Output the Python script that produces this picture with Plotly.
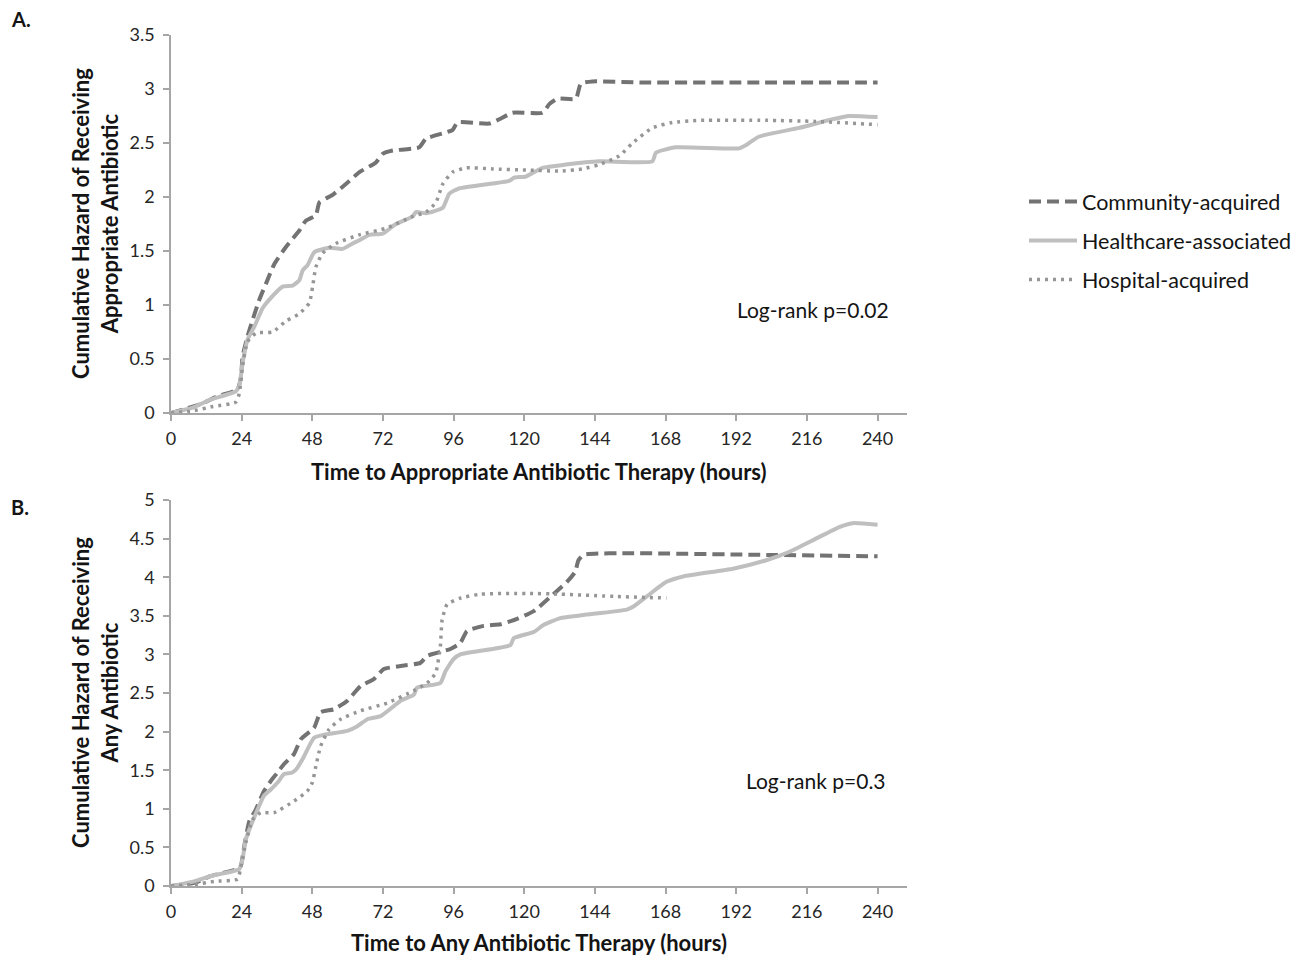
import plotly.graph_objects as go

# ---------------- data (hours, cumulative hazard) ----------------
# Panel A: appropriate antibiotic
a_comm_t = [0, 5, 10.8, 15.3, 22.6, 23.8, 24.3, 26, 27.7, 30, 32.3, 35.1, 39.1, 43.6, 45.8, 49.2, 50.4, 54.9, 59.4, 64, 69.6, 71.9, 75.3, 84.3, 86.6, 95.6, 97.3, 108, 111.5, 116, 126.2, 128.5, 131.3, 137.5, 139.2, 143.2, 160, 200, 240]
a_comm_v = [0, 0.04, 0.09, 0.15, 0.22, 0.34, 0.52, 0.71, 0.86, 1.05, 1.2, 1.38, 1.54, 1.69, 1.78, 1.83, 1.95, 2.02, 2.12, 2.23, 2.32, 2.4, 2.43, 2.46, 2.54, 2.62, 2.69, 2.68, 2.72, 2.78, 2.78, 2.86, 2.91, 2.91, 3.05, 3.07, 3.06, 3.06, 3.06]

a_hca_t = [0, 7.4, 13, 22, 23.2, 24.3, 26, 28.3, 31.1, 33.4, 37.9, 41.3, 43.6, 44.7, 46.4, 48.7, 53.8, 58.3, 61.7, 64, 67.4, 71.9, 76.4, 82.1, 83.2, 86.6, 92.3, 94.5, 97.9, 114.9, 116.6, 120.6, 126.2, 134.1, 145.4, 163.5, 164.7, 171.5, 193, 195.3, 199.8, 213.4, 224.7, 230.3, 240]
a_hca_v = [0, 0.05, 0.12, 0.2, 0.25, 0.46, 0.68, 0.8, 0.97, 1.05, 1.17, 1.18, 1.23, 1.32, 1.37, 1.49, 1.53, 1.52, 1.57, 1.6, 1.65, 1.66, 1.75, 1.82, 1.86, 1.85, 1.9, 2.03, 2.08, 2.15, 2.18, 2.19, 2.27, 2.30, 2.33, 2.33, 2.41, 2.46, 2.45, 2.48, 2.56, 2.64, 2.72, 2.75, 2.74]

a_hosp_t = [0, 7.4, 14.2, 22, 23.2, 24.3, 26, 28.9, 34.5, 39, 43.6, 47, 48.1, 49.2, 51.5, 56, 64, 73, 82.1, 86.6, 90, 92.3, 95.6, 100.2, 109.2, 120.6, 131.9, 139.8, 145.4, 152.2, 156.8, 163.5, 170.3, 179.4, 202, 219, 240]
a_hosp_v = [0, 0.02, 0.06, 0.1, 0.18, 0.43, 0.66, 0.74, 0.75, 0.85, 0.92, 1.02, 1.17, 1.35, 1.48, 1.57, 1.65, 1.71, 1.82, 1.86, 1.95, 2.12, 2.23, 2.27, 2.26, 2.25, 2.24, 2.26, 2.3, 2.38, 2.5, 2.64, 2.69, 2.71, 2.71, 2.70, 2.67]

# Panel B: any antibiotic
b_comm_t = [0, 7.9, 13.6, 22.6, 23.7, 24.9, 26.6, 28.8, 31.6, 33.9, 36.2, 38.4, 41.8, 44.1, 48.6, 50.8, 55.4, 59.9, 64.4, 68.9, 72.3, 78, 84.7, 87, 94.9, 98.3, 100.5, 106.2, 111.9, 117.5, 123.2, 129.9, 134.5, 137.3, 138.4, 140.1, 157, 200, 240]
b_comm_v = [0, 0.04, 0.13, 0.22, 0.26, 0.52, 0.84, 0.99, 1.23, 1.36, 1.47, 1.58, 1.71, 1.9, 2.05, 2.25, 2.29, 2.4, 2.59, 2.68, 2.81, 2.85, 2.89, 2.98, 3.07, 3.15, 3.3, 3.37, 3.39, 3.46, 3.56, 3.78, 3.94, 4.07, 4.22, 4.29, 4.31, 4.29, 4.27]

b_hca_t = [0, 7.9, 13.6, 23.2, 24.3, 25.4, 27.1, 29.4, 31.6, 33.9, 36.2, 38.4, 41.2, 42.9, 45.2, 48.6, 52, 59.9, 63.3, 66.7, 71.2, 75.7, 78, 82.5, 83.6, 91.5, 93.2, 96, 98.3, 115.3, 116.4, 123.2, 126.5, 132.2, 140.1, 154.8, 157.1, 161.6, 168.3, 174, 190.9, 202.2, 210.1, 219.1, 227, 231.5, 240]
b_hca_v = [0, 0.06, 0.13, 0.22, 0.35, 0.6, 0.78, 0.99, 1.17, 1.25, 1.34, 1.45, 1.47, 1.53, 1.68, 1.92, 1.96, 2.01, 2.07, 2.16, 2.2, 2.33, 2.4, 2.48, 2.57, 2.63, 2.78, 2.94, 3.0, 3.12, 3.21, 3.29, 3.38, 3.47, 3.51, 3.58, 3.62, 3.75, 3.94, 4.01, 4.11, 4.22, 4.33, 4.5, 4.65, 4.7, 4.68]

b_hosp_t = [0, 7.9, 14.7, 22.6, 23.7, 25.4, 27.7, 30.5, 35, 41.8, 46.3, 48, 49.2, 50.8, 53.7, 57.6, 64.4, 73.4, 82.5, 87, 89.9, 91.5, 92.1, 93.8, 98.3, 105.1, 120.9, 132.2, 151.4, 168.3]
b_hosp_v = [0, 0.02, 0.06, 0.09, 0.24, 0.56, 0.86, 0.95, 0.95, 1.1, 1.23, 1.34, 1.55, 1.81, 2.03, 2.16, 2.27, 2.37, 2.53, 2.63, 2.76, 3.11, 3.45, 3.65, 3.73, 3.78, 3.79, 3.78, 3.75, 3.73]

series_names = ["Community-acquired", "Healthcare-associated", "Hospital-acquired"]
x_ticks = [0, 24, 48, 72, 96, 120, 144, 168, 192, 216, 240]
a_yticks = [0, 0.5, 1, 1.5, 2, 2.5, 3, 3.5]
a_ytext = ["0", "0.5", "1", "1.5", "2", "2.5", "3", "3.5"]
b_yticks = [0, 0.5, 1, 1.5, 2, 2.5, 3, 3.5, 4, 4.5, 5]
b_ytext = ["0", "0.5", "1", "1.5", "2", "2.5", "3", "3.5", "4", "4.5", "5"]

# ---------------- styling ----------------
FONT = "Lato"
AXIS_COLOR = "#a6a6a6"
TXT = "#141414"
styles = [
    dict(color="#737373", width=4, dash="12px,6px"),
    dict(color="#bfbfbf", width=4, dash="solid"),
    dict(color="#969696", width=3.5, dash="3px,5px"),
]

fig = go.Figure()
panel_a = [(a_comm_t, a_comm_v), (a_hca_t, a_hca_v), (a_hosp_t, a_hosp_v)]
panel_b = [(b_comm_t, b_comm_v), (b_hca_t, b_hca_v), (b_hosp_t, b_hosp_v)]

for i, (t, v) in enumerate(panel_a):
    fig.add_trace(go.Scatter(
        x=t, y=v, mode="lines", name=series_names[i], legendgroup=series_names[i],
        line=dict(shape="spline", smoothing=0.5, **styles[i]),
        xaxis="x", yaxis="y", showlegend=True))
for i, (t, v) in enumerate(panel_b):
    fig.add_trace(go.Scatter(
        x=t, y=v, mode="lines", name=series_names[i], legendgroup=series_names[i],
        line=dict(shape="spline", smoothing=0.5, **styles[i]),
        xaxis="x2", yaxis="y2", showlegend=False))

# page has an 8px body margin: figure coords = screen coords - 8
OFF = 8
FIG_W, FIG_H = 1303 - OFF, 957 - OFF
M_L = 171 - OFF
M_T = 35 - OFF
PLOT_W = 907 - 171
M_R = FIG_W - M_L - PLOT_W
M_B = FIG_H - (886 - OFF)
TOTAL_H = 886 - 35  # 851

def py(p):  # screen y -> paper
    return (886 - p) / TOTAL_H

def px(p):  # screen x -> paper
    return (p - 171) / PLOT_W

common_x = dict(
    range=[0, 250], tickmode="array", tickvals=x_ticks, ticktext=[str(t) for t in x_ticks],
    showline=True, linecolor=AXIS_COLOR, linewidth=1.5, ticks="outside", ticklen=6,
    tickcolor=AXIS_COLOR, tickwidth=1.5, showgrid=False, zeroline=False,
    ticklabelstandoff=3,
    tickfont=dict(family=FONT, size=18, color="#262626"),
)
common_y = dict(
    showline=True, linecolor=AXIS_COLOR, linewidth=1.5, ticks="outside", ticklen=6,
    tickcolor=AXIS_COLOR, tickwidth=1.5, showgrid=False, zeroline=False,
    ticklabelstandoff=5,
    tickfont=dict(family=FONT, size=18, color="#262626"),
)

fig.update_layout(
    width=FIG_W, height=FIG_H,
    margin=dict(l=M_L, r=M_R, t=M_T, b=M_B, autoexpand=False),
    paper_bgcolor="white", plot_bgcolor="white",
    xaxis=dict(domain=[0, 1], anchor="y", **common_x),
    yaxis=dict(domain=[py(413), 1], anchor="x", range=[0, 3.5], tickmode="array",
               tickvals=a_yticks, ticktext=a_ytext, **common_y),
    xaxis2=dict(domain=[0, 1], anchor="y2", **common_x),
    yaxis2=dict(domain=[0, py(500)], anchor="x2", range=[0, 5], tickmode="array",
                tickvals=b_yticks, ticktext=b_ytext, **common_y),
    legend=dict(x=px(1024), y=py(181), xanchor="left", yanchor="top",
                font=dict(family=FONT, size=21.5, color=TXT),
                itemwidth=48, tracegroupgap=8, bgcolor="rgba(0,0,0,0)"),
    showlegend=True,
)

title_font = dict(family=FONT, size=22, color=TXT)
annotations = [
    dict(text="<b>A.</b>", x=px(9), y=py(19), xref="paper", yref="paper",
         xanchor="left", yanchor="middle", showarrow=False, font=dict(family=FONT, size=20, color=TXT)),
    dict(text="<b>B.</b>", x=px(9), y=py(507), xref="paper", yref="paper",
         xanchor="left", yanchor="middle", showarrow=False, font=dict(family=FONT, size=20, color=TXT)),
    dict(text="<b>Time to Appropriate Antibiotic Therapy (hours)</b>", x=px(539), y=py(471),
         xref="paper", yref="paper", xanchor="center", yanchor="middle", showarrow=False, font=title_font),
    dict(text="<b>Time to Any Antibiotic Therapy (hours)</b>", x=px(539), y=py(942),
         xref="paper", yref="paper", xanchor="center", yanchor="middle", showarrow=False, font=title_font),
    dict(text="<b>Cumulative Hazard of Receiving<br>Appropriate Antibiotic</b>", x=px(95), y=py(224),
         xref="paper", yref="paper", xanchor="center", yanchor="middle", textangle=-90,
         showarrow=False, font=title_font),
    dict(text="<b>Cumulative Hazard of Receiving<br>Any Antibiotic</b>", x=px(95), y=py(693),
         xref="paper", yref="paper", xanchor="center", yanchor="middle", textangle=-90,
         showarrow=False, font=title_font),
    dict(text="Log-rank p=0.02", x=px(813), y=py(310), xref="paper", yref="paper",
         xanchor="center", yanchor="middle", showarrow=False,
         font=dict(family=FONT, size=21, color=TXT)),
    dict(text="Log-rank p=0.3", x=px(816), y=py(780), xref="paper", yref="paper",
         xanchor="center", yanchor="middle", showarrow=False,
         font=dict(family=FONT, size=21, color=TXT)),
]
fig.update_layout(annotations=annotations)

fig.write_html("out.html")
